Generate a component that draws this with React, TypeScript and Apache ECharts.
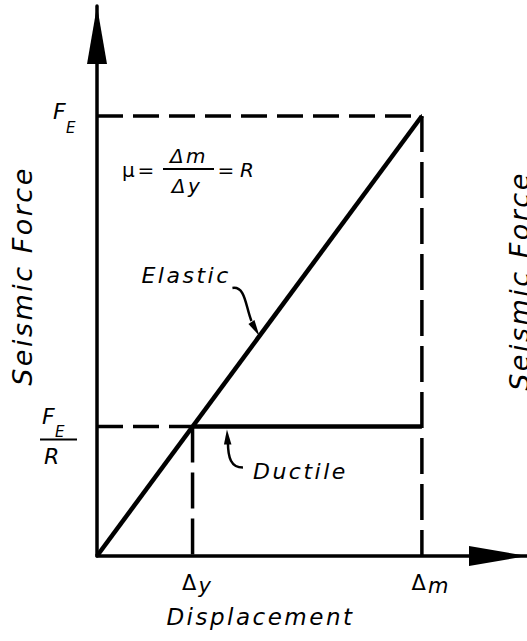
import React, { useEffect, useRef } from "react";
import * as echarts from "echarts";

// ---- data (dimensionless: Δy = 1, F_E/R = 1, R = 3.4) ----
const R = 3.4;
const displacementTicks = [1, R]; // Δy, Δm
const displacementTickSubs = ["y", "m"];
const forceTicks = [1, R]; // F_E/R, F_E
const elasticLine = [[0, 0], [R, R]];
const ductileLine = [[1, 1], [R, 1]];
const guideTop = [[0, R], [R, R]];
const guideRight = [[R, R], [R, 0]];
const guideYieldH = [[0, 1], [1, 1]];
const guideYieldV = [[1, 1], [1, 0]];
const elasticPointer = [1.7, 1.7];
const ductilePointer = [1.36, 1];
const xMax = 4.5;
const yMax = 4.25;

const FONT = "'DejaVu Sans', sans-serif";

export default function App() {
  const ref = useRef<HTMLDivElement>(null);

  useEffect(() => {
    if (!ref.current) return;
    const chart = echarts.init(ref.current, null, { renderer: "svg" });
    const axisCommon = {
      type: "value" as const,
      min: 0,
      axisTick: { show: false },
      axisLabel: { show: false },
      splitLine: { show: false },
      axisLine: {
        show: true,
        symbol: ["none", "triangle"],
        symbolSize: [20, 58],
        symbolOffset: [0, -29],
        lineStyle: { color: "#000", width: 3.5 },
      },
    };
    const dashedH = [26, 10];
    const dashedV = [36, 10];
    const mk = (data: number[][], width: number, type: any, z = 2) => ({
      type: "line",
      data,
      symbol: "none",
      silent: true,
      z,
      lineStyle: { color: "#000", width, type, cap: "butt" },
    });
    chart.setOption({
      animation: false,
      backgroundColor: "#fff",
      grid: { left: 97, top: 6, width: 431, height: 550 },
      xAxis: { ...axisCommon, max: xMax },
      yAxis: { ...axisCommon, max: yMax },
      series: [
        mk(guideTop, 3.5, dashedH),
        mk(guideRight, 3.5, dashedV),
        mk(guideYieldH, 3.5, dashedH),
        mk(guideYieldV, 3.5, dashedV),
        mk(elasticLine, 4.5, "solid", 3),
        mk(ductileLine, 4.5, "solid", 3),
      ],
    });

    const toPx = (x: number, y: number) =>
      chart.convertToPixel({ gridIndex: 0 }, [x, y]) as number[];
    const [ox, oy] = toPx(0, 0);
    const [, yFR] = toPx(0, forceTicks[0]);
    const [, yFE] = toPx(0, forceTicks[1]);

    const txt = (
      text: string,
      x: number,
      y: number,
      size: number,
      align = "left",
      italic = true,
      rotation = 0
    ) => ({
      type: "text",
      x,
      y,
      rotation,
      silent: true,
      style: {
        text,
        x: 0,
        y: 0,
        fill: "#000",
        fontSize: size,
        fontFamily: FONT,
        fontStyle: italic ? "italic" : "normal",
        textAlign: align,
        textVerticalAlign: "middle",
      },
    });
    const line = (x1: number, y1: number, x2: number, y2: number, w: number) => ({
      type: "line",
      silent: true,
      shape: { x1, y1, x2, y2 },
      style: { stroke: "#000", lineWidth: w },
    });

    const g: any[] = [];
    // y tick labels
    g.push(txt("F", ox - 44, yFE - 5, 22));
    g.push(txt("E", ox - 31, yFE + 12, 15));
    g.push(txt("F", ox - 55, yFR - 10, 22));
    g.push(txt("E", ox - 42, yFR + 5, 15));
    g.push(line(ox - 57, yFR + 13, ox - 20, yFR + 13, 2));
    g.push(txt("R", ox - 53, yFR + 30, 22));
    // x tick labels
    displacementTicks.forEach((v, i) => {
      const [px] = toPx(v, 0);
      g.push(txt("Δ", px - 2, oy + 27, 21, "center", false));
      g.push(txt(displacementTickSubs[i], px + 6, oy + 30, 21));
    });
    // axis titles
    g.push(txt("Displacement", (ox + toPx(R, 0)[0]) / 2 + 1, oy + 61, 23, "center"));
    g.push(txt("Seismic Force", 22, 276, 27, "center", true, Math.PI / 2));
    g.push(txt("Seismic Force", 519, 281, 27, "center", true, Math.PI / 2));
    // formula
    const fy = yFE + 54;
    g.push(txt("μ", ox + 25, fy, 20, "left", false));
    g.push(txt("=", ox + 50, fy, 20, "center", false));
    g.push(txt("Δm", ox + 92, fy - 14, 20, "center"));
    g.push(line(ox + 66, fy - 1, ox + 117, fy - 1, 2));
    g.push(txt("Δy", ox + 90, fy + 16, 20, "center"));
    g.push(txt("=", ox + 130, fy, 20, "center", false));
    g.push(txt("R", ox + 143, fy, 20, "left"));
    // Elastic pointer
    const [ex, ey] = toPx(elasticPointer[0], elasticPointer[1]);
    g.push(txt("Elastic", ex - 118, ey - 61, 22));
    g.push({
      type: "bezierCurve",
      silent: true,
      shape: {
        x1: ex - 27, y1: ey - 48,
        cpx1: ex - 14, cpy1: ey - 50,
        cpx2: ex - 14, cpy2: ey - 30,
        x2: ex - 8, y2: ey - 15,
      },
      style: { stroke: "#000", lineWidth: 2.5, fill: "none" },
    });
    g.push({
      type: "polygon",
      silent: true,
      shape: { points: [[ex, ey], [ex - 11, ey - 12], [ex - 5, ey - 16]] },
      style: { fill: "#000" },
    });
    // Ductile pointer
    const [dx, dyRaw] = toPx(ductilePointer[0], ductilePointer[1]);
    const dy = dyRaw + 3;
    g.push(txt("Ductile", dx + 26, dy + 42, 22));
    g.push({
      type: "bezierCurve",
      silent: true,
      shape: {
        x1: dx + 16, y1: dy + 38,
        cpx1: dx + 4, cpy1: dy + 38,
        cpx2: dx + 1, cpy2: dy + 28,
        x2: dx + 1, y2: dy + 13,
      },
      style: { stroke: "#000", lineWidth: 2.5, fill: "none" },
    });
    g.push({
      type: "polygon",
      silent: true,
      shape: { points: [[dx, dy], [dx - 3, dy + 15], [dx + 4.5, dy + 15]] },
      style: { fill: "#000" },
    });

    chart.setOption({ graphic: g });
    return () => chart.dispose();
  }, []);

  return (
    <>
      <style>{`#chart-root svg text { letter-spacing: 2.5px; }`}</style>
      <div
        id="chart-root"
        ref={ref}
        style={{ position: "fixed", left: 0, top: 0, width: 527, height: 641, background: "#fff" }}
      />
    </>
  );
}
